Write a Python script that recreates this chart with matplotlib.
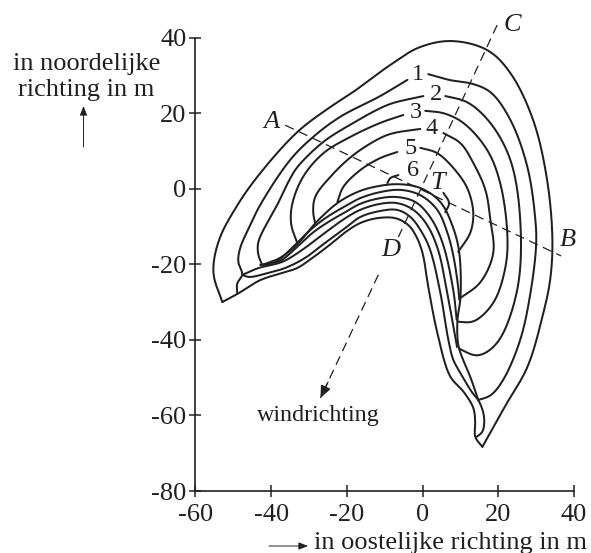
import numpy as np
import matplotlib
matplotlib.use("Agg")
import matplotlib.pyplot as plt

plt.rcParams['font.family'] = ['Liberation Serif', 'DejaVu Serif']

x_ticks = [-60, -40, -20, 0, 20, 40]
y_ticks = [-80, -60, -40, -20, 0, 20, 40]

outer = [(-52.9,-30.0),(-55.3,-22.3),(-53.8,-13.6),(-49.2,-4.8),(-43.7,3.1),(-33.1,15.0),(-24.4,21.6),(-18.3,25.6),
         (-11.2,30.9),(-7.7,33.3),(-1.4,37.2),(7.3,39.1),(17.1,36.7),(23.2,30.6),(29.2,18.2),(32.9,2.3),(34.3,-13.6),
         (33.7,-24.2),(31.9,-32.9),(27.7,-47.2),(22.0,-57.2),(15.8,-68.3)]
band_a = [(-52.9,-30.0),(-49.0,-27.9),(-42.9,-24.2),(-37.1,-22.3),(-33.1,-21.0),(-29.1,-18.3),(-25.2,-15.4),(-20.4,-11.5),
          (-16.5,-9.1),(-12.0,-7.8),(-7.2,-7.8),(-3.8,-9.6),(-1.9,-12.2),(-0.1,-16.7),(1.5,-26.0),(3.9,-38.2),(7.3,-49.7),
          (10.8,-53.7),(13.4,-58.0),(13.9,-61.7),(13.9,-65.7),(15.8,-68.3)]
band_b = [(-47.6,-22.8),(-46.0,-23.4),(-40.8,-22.3),(-36.3,-21.0),(-31.0,-18.3),(-26.5,-14.9),(-20.4,-10.4),(-16.5,-7.5),
          (-11.2,-5.9),(-6.7,-5.6),(-3.2,-7.5),(-0.1,-11.7),(2.0,-16.2),(4.7,-27.6),(6.8,-40.0),(8.1,-45.3),(10.0,-48.8),
          (13.2,-54.1),(14.7,-55.9),(16.0,-59.1),(16.3,-61.7),(15.8,-64.4),(14.2,-65.7)]
band_c = [(-47.6,-22.8),(-43.4,-21.0),(-37.1,-19.4),(-31.8,-16.2),(-26.5,-12.2),(-20.4,-7.8),(-16.5,-5.6),(-11.2,-4.0),
          (-6.7,-3.8),(-2.4,-5.6),(1.2,-9.6),(4.1,-16.2),(6.5,-27.6),(9.1,-41.9)]
band_d = [(-42.9,-20.2),(-38.1,-19.4),(-33.1,-15.4),(-29.1,-11.7),(-24.9,-8.8),(-20.4,-6.2),(-16.5,-4.0),(-11.2,-2.5),
          (-6.7,-2.2),(-1.9,-3.5),(2.0,-7.5),(5.2,-14.1),(8.1,-26.8),(9.0,-34.7)]
band_e = [(-42.4,-20.2),(-38.9,-19.4),(-33.7,-14.9),(-30.2,-11.4),(-25.7,-7.8),(-20.4,-4.6),(-16.5,-2.5),(-11.2,-0.9),
          (-5.9,-0.3),(-0.6,-1.7),(3.9,-5.6),(6.5,-11.5),(8.1,-17.6),(9.4,-26.0),(9.7,-29.4)]
band_f = [(-42.4,-20.2),(-37.6,-18.3),(-32.8,-14.4),(-28.3,-9.1),(-22.5,-3.8),(-17.3,-0.9),(-13.1,0.4),(-6.7,1.2),
          (-0.6,0.2),(4.7,-3.5),(8.1,-10.4),(9.7,-17.0),(10.0,-28.9),(9.2,-34.7),(9.4,-41.3),(10.5,-44.8),(12.6,-49.8),(14.7,-55.9)]
c1_left = [(-49.0,-27.6),(-49.0,-25.0),(-47.6,-22.8),(-48.7,-19.4),(-48.2,-15.7),(-45.5,-9.6),(-42.9,-4.3),(-35.0,7.6),
           (-28.9,13.7),(-21.8,19.0),(-11.2,24.5),(-4.0,28.8)]
c1_right = [(1.5,30.3),(7.3,28.7),(12.6,27.9),(17.9,25.6),(23.2,18.2),(27.7,5.7),(29.8,-8.3),(30.0,-14.9),(28.5,-27.6),
            (25.8,-40.0),(21.3,-50.6),(17.9,-54.8),(14.7,-55.9)]
c2_left = [(-42.4,-20.2),(-43.4,-17.5),(-43.4,-14.1),(-38.4,-4.3),(-35.2,2.3),(-33.1,5.7),(-26.2,12.4),(-18.3,17.4),
           (-11.2,21.3),(-7.7,22.7),(0.2,24.5)]
c2_right = [(6.0,24.5),(11.8,22.9),(17.9,17.4),(23.2,7.6),(25.8,-8.3),(25.0,-26.8),(19.7,-40.8),(14.5,-44.2),(9.6,-42.3)]
c3_left = [(-33.1,-14.4),(-34.7,-9.6),(-34.5,-4.3),(-31.6,3.1),(-26.2,9.4),(-19.1,13.7),(-11.2,17.4),(-5.1,19.5)]
c3_right = [(0.7,20.6),(5.5,20.0),(10.8,17.4),(17.1,10.2),(20.5,1.5),(22.4,-12.2),(21.9,-20.7),(18.7,-30.2),(13.4,-35.2),(9.4,-35.2)]
c4_left = [(-28.4,-9.1),(-28.9,-6.4),(-28.4,-2.2),(-24.4,3.1),(-18.3,8.9),(-11.2,13.4),(-7.7,14.7),(-0.6,15.8)]
c4_right = [(5.5,14.7),(10.0,12.1),(13.4,6.8),(16.6,-0.3),(17.9,-8.3),(18.7,-17.0),(15.2,-24.9),(10.0,-28.9)]
c5_left = [(-22.5,-3.5),(-21.0,0.4),(-16.5,4.9),(-11.2,8.1),(-6.7,9.7)]
c5_right = [(-0.6,10.8),(3.9,9.4),(9.2,4.2),(12.0,-0.3),(13.4,-6.4),(12.6,-11.7),(9.4,-16.7)]
c6_left = [(-9.3,1.5),(-8.5,2.8),(-6.4,3.6)]
c6_right = [(5.5,-1.1),(7.0,-3.8),(6.0,-6.2)]

# (points, smoothing width in data units)
curves = [(outer, 6), (band_a, 2.5), (band_b, 3), (band_c, 4), (band_d, 4), (band_e, 4), (band_f, 4),
          (c1_left, 2.5), (c1_right, 5), (c2_left, 3), (c2_right, 5), (c3_left, 3), (c3_right, 5),
          (c4_left, 3), (c4_right, 5), (c5_left, 2.5), (c5_right, 3), (c6_left, 0.6), (c6_right, 1)]

line_ab = [(-36.3, 16.8), (36.6, -17.8)]
line_cd = [(19.7, 43.3), (-6.4, -12.8)]
wind_line = [(-11.7, -22.8), (-27.0, -55.4)]

contour_labels = [("1", 418, 74), ("2", 436, 95), ("3", 416, 112), ("4", 432, 128), ("5", 411, 148), ("6", 413, 171)]
point_labels = [("A", 272, 122), ("B", 568, 240), ("C", 512, 25), ("D", 391, 250), ("T", 438, 183)]


def catmull(points, n=24):
    p = np.asarray(points, float)
    p = np.vstack([2 * p[0] - p[1], p, 2 * p[-1] - p[-2]])
    out = []
    for i in range(1, len(p) - 2):
        p0, p1, p2, p3 = p[i - 1], p[i], p[i + 1], p[i + 2]
        t0 = 0.0
        t1 = t0 + np.linalg.norm(p1 - p0) ** 0.5
        t2 = t1 + np.linalg.norm(p2 - p1) ** 0.5
        t3 = t2 + np.linalg.norm(p3 - p2) ** 0.5
        t = np.linspace(t1, t2, n)[:, None]
        a1 = (t1 - t) / (t1 - t0) * p0 + (t - t0) / (t1 - t0) * p1
        a2 = (t2 - t) / (t2 - t1) * p1 + (t - t1) / (t2 - t1) * p2
        a3 = (t3 - t) / (t3 - t2) * p2 + (t - t2) / (t3 - t2) * p3
        b1 = (t2 - t) / (t2 - t0) * a1 + (t - t0) / (t2 - t0) * a2
        b2 = (t3 - t) / (t3 - t1) * a2 + (t - t1) / (t3 - t1) * a3
        out.append((t2 - t) / (t2 - t1) * b1 + (t - t1) / (t2 - t1) * b2)
    return np.vstack(out)


def smooth(points, width):
    """Spline through the read-off points, then a short pen-like filter along its length."""
    xy = catmull(points)
    seg = np.r_[0, np.cumsum(np.hypot(*np.diff(xy, axis=0).T))]
    keep = np.r_[True, np.diff(seg) > 0]
    xy, seg = xy[keep], seg[keep]
    step = 0.05
    s = np.arange(0, seg[-1], step)
    s = np.r_[s, seg[-1]]
    d = np.column_stack([np.interp(s, seg, xy[:, 0]), np.interp(s, seg, xy[:, 1])])
    k = max(3, int(width / step) | 1)
    half = min(k // 2, len(d) - 1)
    k = 2 * half + 1
    kernel = np.hanning(k + 2)[1:-1]
    kernel /= kernel.sum()
    head = 2 * d[0] - d[half:0:-1]
    tail = 2 * d[-1] - d[-2:-half - 2:-1]
    ext = np.vstack([head, d, tail])
    return np.column_stack([np.convolve(ext[:, i], kernel, mode="valid") for i in range(2)])


W, H = 591, 553
fig = plt.figure(figsize=(W / 100, H / 100), dpi=100, facecolor="white")
ax = fig.add_axes([195.5 / W, (H - 491) / H, (574 - 195.5) / W, (491 - 37.5) / H])
ax.set_xlim(-60, 40)
ax.set_ylim(-80, 40)
ax.patch.set_alpha(0)

ink = "#231f20"
for s in ("top", "right"):
    ax.spines[s].set_visible(False)
for s in ("left", "bottom"):
    ax.spines[s].set_linewidth(1.2)
    ax.spines[s].set_color(ink)
ax.set_xticks(x_ticks)
ax.set_yticks(y_ticks)
ax.set_xticklabels([str(v) for v in x_ticks])
ax.set_yticklabels([str(v) for v in y_ticks])
ax.tick_params(axis="both", direction="inout", length=9.2, width=1.1, color=ink, labelcolor=ink, labelsize=19)
ax.tick_params(axis="x", pad=5)
ax.tick_params(axis="y", pad=2)

for c, w in curves:
    xy = smooth(c, w)
    ax.plot(xy[:, 0], xy[:, 1], color=ink, lw=1.45, clip_on=False, solid_capstyle="round", solid_joinstyle="round")

dash = (0, (7.5, 4.5))
for seg in (line_ab, line_cd, wind_line):
    xs, ys = zip(*seg)
    ax.plot(xs, ys, color=ink, lw=0.9, ls=dash, clip_on=False)

ax.annotate("", xy=wind_line[1], xytext=(-25.0, -51.2),
            arrowprops=dict(arrowstyle="-|>,head_length=0.75,head_width=0.32", color=ink, lw=0.9, shrinkA=0, shrinkB=0),
            annotation_clip=False)


def put(txt, px, py, **kw):
    kw.setdefault("ha", "center")
    kw.setdefault("va", "center")
    kw.setdefault("color", ink)
    fig.text(px / W, 1 - py / H, txt, **kw)


for t, px, py in contour_labels:
    put(t, px, py, fontsize=17.5)
for t, px, py in point_labels:
    put(t, px, py, fontsize=19, style="italic")

put("in noordelijke", 86.5, 70, fontsize=19, va="baseline")
put("richting in m", 86, 96, fontsize=19, va="baseline")
put("windrichting", 318, 421.5, fontsize=17.3, va="baseline")
put("in oostelijke richting in m", 451, 549.5, fontsize=19, va="baseline")


def px_arrow(x0, y0, x1, y1):
    fig.add_artist(matplotlib.patches.FancyArrowPatch(
        (x0 / W, 1 - y0 / H), (x1 / W, 1 - y1 / H), transform=fig.transFigure,
        arrowstyle="-|>,head_length=2.8,head_width=1.1", mutation_scale=2, color=ink, lw=0.7,
        shrinkA=0, shrinkB=0))


px_arrow(83.5, 147, 83.5, 106)
px_arrow(269, 546, 308, 546)

fig.savefig("out.png", dpi=100, facecolor="white")
